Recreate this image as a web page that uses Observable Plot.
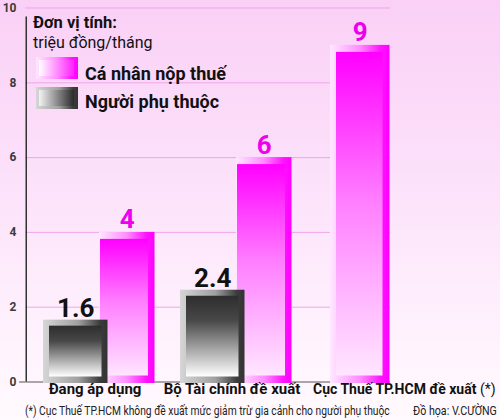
<!DOCTYPE html>
<html>
<head>
<meta charset="utf-8">
<script src="https://cdn.jsdelivr.net/npm/d3@7"></script>
<script src="https://cdn.jsdelivr.net/npm/@observablehq/plot@0.6"></script>
<style>
  html, body { margin: 0; padding: 0; }
  body { width: 500px; height: 420px; overflow: hidden;
         background: linear-gradient(to bottom, #fad0f6 0%, #fce2fa 45%, #fff4fd 85%, #fffafe 100%);
         font-family: Roboto, "Open Sans", sans-serif; }
  #wrap { position: relative; width: 500px; height: 420px; }
  #overlay { position: absolute; left: 0; top: 0; pointer-events: none; }
</style>
</head>
<body>
<div id="wrap">
  <div id="chart"></div>
  <svg id="overlay" width="500" height="420" xmlns="http://www.w3.org/2000/svg">
    <defs>
      <linearGradient id="pinkFrame" x1="0" y1="0" x2="1" y2="0">
        <stop offset="0" stop-color="#ffe8ff"/>
        <stop offset="0.5" stop-color="#ff8cff"/>
        <stop offset="0.85" stop-color="#ff14ff"/>
        <stop offset="1" stop-color="#ff00ff"/>
      </linearGradient>
      <linearGradient id="pinkInner" x1="0" y1="0" x2="0" y2="1">
        <stop offset="0" stop-color="#ff00ff"/>
        <stop offset="0.45" stop-color="#ff7cff"/>
        <stop offset="1" stop-color="#ffe6ff"/>
      </linearGradient>
      <linearGradient id="grayFrame" x1="0" y1="0" x2="1" y2="0">
        <stop offset="0" stop-color="#d6d6d6"/>
        <stop offset="0.55" stop-color="#a0a0a0"/>
        <stop offset="0.88" stop-color="#3c3c3c"/>
        <stop offset="1" stop-color="#333333"/>
      </linearGradient>
      <linearGradient id="grayInner" x1="0" y1="0" x2="0" y2="1">
        <stop offset="0" stop-color="#2e2e2e"/>
        <stop offset="0.3" stop-color="#474747"/>
        <stop offset="1" stop-color="#ffffff"/>
      </linearGradient>
      <linearGradient id="pinkSwatch" x1="0" y1="0" x2="1" y2="0">
        <stop offset="0" stop-color="#ffffff"/>
        <stop offset="1" stop-color="#ff22ff"/>
      </linearGradient>
      <linearGradient id="graySwatch" x1="0" y1="0" x2="1" y2="0">
        <stop offset="0" stop-color="#f4f4f4"/>
        <stop offset="1" stop-color="#2a2a2a"/>
      </linearGradient>
    </defs>
    <g id="legend" font-family="Roboto, 'Open Sans', sans-serif" fill="#111">
      <text x="33" y="28" font-size="16.5" font-weight="bold">Đơn vị tính:</text>
      <text x="33" y="47.5" font-size="16">triệu đồng/tháng</text>
      <rect x="36" y="57" width="42" height="22" fill="url(#pinkFrame)"/>
      <rect x="39" y="60" width="35" height="16" fill="url(#pinkSwatch)"/>
      <text x="85" y="80" font-size="18" font-weight="bold">Cá nhân nộp thuế</text>
      <rect x="36" y="87" width="42" height="22" fill="url(#grayFrame)"/>
      <rect x="39" y="90" width="35" height="16" fill="url(#graySwatch)"/>
      <text x="85" y="108" font-size="18" font-weight="bold">Người phụ thuộc</text>
    </g>
    <g id="footer" font-family="Roboto, 'Open Sans', sans-serif" fill="#222" font-size="13.5">
      <text class="fit" data-x="25" data-y="415" data-w="365">(*) Cục Thuế TP.HCM không đề xuất mức giảm trừ gia cảnh cho người phụ thuộc</text>
      <text class="fit" data-x="413" data-y="415" data-w="84">Đồ họa: V.CƯỜNG</text>
    </g>
  </svg>
</div>
<script>
// ---- data ----
const groups = ["Đang áp dụng", "Bộ Tài chính đề xuất", "Cục Thuế TP.HCM đề xuất"];
const taxpayer = [4, 6, 9];          // Cá nhân nộp thuế
const dependent = [1.6, 2.4, null];  // Người phụ thuộc (không đề xuất ở nhóm 3)
const yTicks = [0, 2, 4, 6, 8, 10];
const gridTicks = [2, 4, 6, 8, 10];
const footnoteMark = " (*)";

const rows = groups.map((g, i) => ({group: g, taxpayer: taxpayer[i], dependent: dependent[i]}));
const paired = rows.filter(d => d.dependent != null);
const solo = rows.filter(d => d.dependent == null);

const fmt = v => String(v);
const font = "Roboto, 'Open Sans', sans-serif";

const chart = Plot.plot({
  width: 500,
  height: 403,
  marginTop: 7.5,
  marginLeft: 25,
  marginRight: 110,
  marginBottom: 21.5,
  style: {background: "transparent", fontFamily: font, overflow: "visible"},
  x: {type: "band", domain: groups, range: [25, 437.5], padding: 0, axis: null},
  y: {domain: [0, 10]},
  marks: [
    Plot.gridY(gridTicks, {stroke: "#ee9fea", strokeOpacity: 0.9}),
    Plot.axisY(yTicks, {tickSize: 0, tickPadding: 9, fontSize: 12, fontWeight: "bold", color: "#3a3a3a"}),
    Plot.ruleY([0], {stroke: "#555", strokeWidth: 1.2, insetLeft: -6}),
    Plot.ruleX([groups[0]], {x: d => d, dx: -68.75, y1: 0, y2: 10, insetBottom: -9, stroke: "#333", strokeWidth: 1.5}),

    // taxpayer bars (paired with dependent bars)
    Plot.barY(paired, {x: "group", y: "taxpayer", fill: "url(#pinkFrame)", insetLeft: 73, insetRight: 8.5, insetBottom: -1.5}),
    Plot.barY(paired, {x: "group", y: "taxpayer", fill: "url(#pinkInner)", insetLeft: 74, insetRight: 15, insetTop: 7, insetBottom: 6}),
    // taxpayer bar alone
    Plot.barY(solo, {x: "group", y: "taxpayer", fill: "url(#pinkFrame)", insetLeft: 30, insetRight: 47.5, insetBottom: -1.5}),
    Plot.barY(solo, {x: "group", y: "taxpayer", fill: "url(#pinkInner)", insetLeft: 36, insetRight: 54.5, insetTop: 7, insetBottom: 6}),
    // dependent bars
    Plot.barY(paired, {x: "group", y: "dependent", fill: "url(#grayFrame)", insetLeft: 17, insetRight: 55.5, insetTop: -2, insetBottom: -1.5}),
    Plot.barY(paired, {x: "group", y: "dependent", fill: "url(#grayInner)", insetLeft: 23, insetRight: 61.5, insetTop: 4, insetBottom: 5}),

    // value labels
    Plot.text(paired, {x: "group", y: "taxpayer", text: d => fmt(d.taxpayer), dx: 32.25, dy: -4, lineAnchor: "bottom",
      fontSize: 26, fontWeight: "bold", fill: "#ee00ee"}),
    Plot.text(solo, {x: "group", y: "taxpayer", text: d => fmt(d.taxpayer), dx: -8.75, dy: -4, lineAnchor: "bottom",
      fontSize: 26, fontWeight: "bold", fill: "#ee00ee"}),
    Plot.text(paired, {x: "group", y: "dependent", text: d => fmt(d.dependent), dx: -19.25, dy: -5, lineAnchor: "bottom",
      fontSize: 26, fontWeight: "bold", fill: "#111"}),

    // category labels
    Plot.text(paired, {x: "group", text: "group", frameAnchor: "bottom", dy: 12, fontSize: 15, fontWeight: "bold", fill: "#111"}),
    Plot.text(solo, {x: "group", text: "group", frameAnchor: "bottom", dy: 12, textAnchor: "start", dx: -56,
      fontSize: 14, fontWeight: "bold", fill: "#111"})
  ]
});
document.getElementById("chart").appendChild(chart);

// footnote marker after the third category label, in regular weight
d3.select(chart).selectAll("text")
  .filter(function() { return this.textContent === groups[2]; })
  .append("tspan").attr("font-weight", "normal").text(footnoteMark);

// condensed footer lines: scale each text to its target width
document.querySelectorAll("#footer text.fit").forEach(el => {
  const w = el.getComputedTextLength();
  const target = +el.dataset.w;
  el.setAttribute("transform", `translate(${el.dataset.x},${el.dataset.y}) scale(${target / w},1)`);
});
</script>
</body>
</html>
